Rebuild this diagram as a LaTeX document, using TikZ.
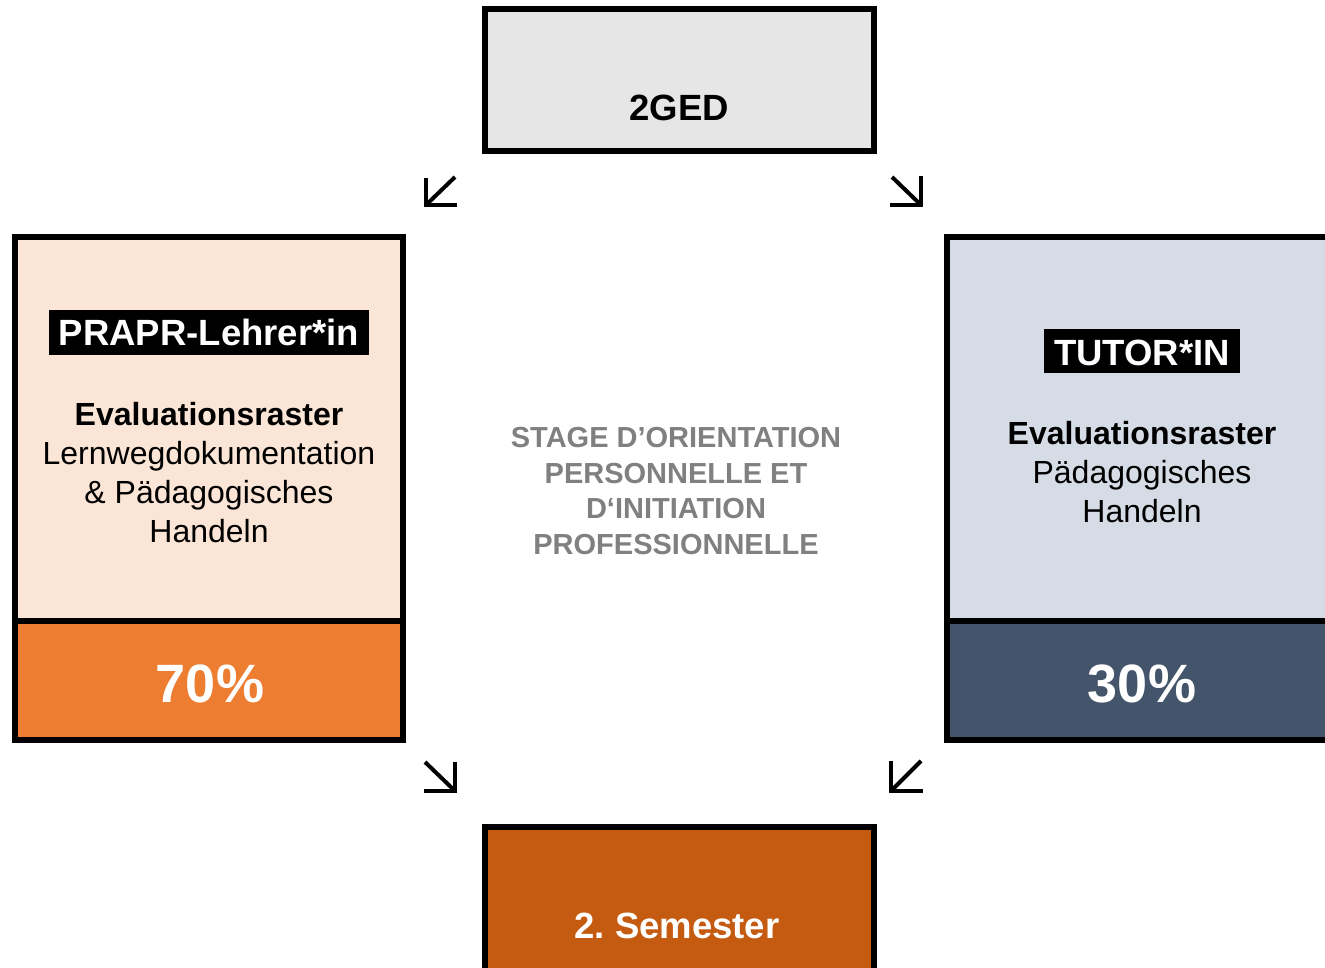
\documentclass[tikz,border=0pt]{standalone}
\usepackage{fontspec}
\setmainfont{Liberation Sans}
\definecolor{gedgray}{HTML}{E6E6E6}
\definecolor{peach}{HTML}{FBE5D6}
\definecolor{orangeA}{HTML}{ED7D31}
\definecolor{bluegray}{HTML}{D6DCE5}
\definecolor{slate}{HTML}{44546A}
\definecolor{rust}{HTML}{C55A11}
\definecolor{midgray}{HTML}{808080}
\begin{document}
\begin{tikzpicture}[x=1pt,y=-1pt,
  frame/.style={draw=black,line width=6pt,inner sep=0pt,outer sep=0pt},
  tag/.style={fill=black,text=white,font=\bfseries\fontsize{36.5}{43}\selectfont,inner xsep=10pt,inner ysep=5pt,text depth=5pt,text height=30pt,anchor=base},
  bodytxt/.style={font=\fontsize{32}{39}\selectfont,align=center,inner sep=0pt,anchor=north},
  pct/.style={text=white,font=\bfseries\fontsize{54}{60}\selectfont,anchor=base,inner sep=0pt},
  ttl/.style={font=\bfseries\fontsize{36.5}{43}\selectfont,anchor=base,inner sep=0pt},
  arr/.style={line width=4pt,line join=miter,line cap=butt}]
\useasboundingbox (0,0) rectangle (1325,968);
\clip (0,0) rectangle (1325,968);

% boxes
\node[frame,fill=gedgray,minimum width=389pt,minimum height=142pt] (ged) at (679.5,80) {};
\node[frame,fill=peach,minimum width=388pt,minimum height=383.5pt] (lup) at (209,428.75) {};
\node[frame,fill=orangeA,minimum width=388pt,minimum height=119.5pt] (llo) at (209,680.25) {};
\node[frame,fill=bluegray,minimum width=388pt,minimum height=383.5pt] (rup) at (1141,428.75) {};
\node[frame,fill=slate,minimum width=388pt,minimum height=119.5pt] (rlo) at (1141,680.25) {};
\node[frame,fill=rust,minimum width=389pt,minimum height=148pt] (sem) at (679.5,901) {};

% texts
\node[ttl] (gedt) at (679,121) {2GED};
\node[ttl,text=white] (semt) at (677,938) {2.~Semester};
\node[tag] (ltag) at (209,345) {PRAPR-Lehrer*in};
\node[tag,text depth=4pt,inner ysep=4pt,text height=32pt] (rtag) at (1142,365) {TUTOR*IN};
\node[bodytxt] (ltxt) at (209,402.4) {\textbf{Evaluationsraster}\\Lernwegdokumentation\\\&~Pädagogisches\\Handeln};
\node[bodytxt] (rtxt) at (1142,421.4) {\textbf{Evaluationsraster}\\Pädagogisches\\Handeln};
\node[font=\bfseries\fontsize{29}{35.7}\selectfont,text=midgray,align=center,inner sep=0pt,anchor=north] (ctxt) at (676,427) {STAGE D’ORIENTATION\\PERSONNELLE ET\\D‘INITIATION\\PROFESSIONNELLE};
\node[pct] (lpct) at (210,702) {70\%};
\node[pct] (rpct) at (1142,702) {30\%};

% arrows (glyph-like)
\coordinate (a1s) at (455,177);
\coordinate (a1c) at (426,205);
\draw[arr] (a1s) -- (a1c);
\draw[arr] ([yshift=27pt]a1c) -- (a1c) -- ([xshift=31pt]a1c);

\coordinate (a2s) at (892,177);
\coordinate (a2c) at (921,205);
\draw[arr] (a2s) -- (a2c);
\draw[arr] ([yshift=29pt]a2c) -- (a2c) -- ([xshift=-31pt]a2c);

\coordinate (a3s) at (425,762);
\coordinate (a3c) at (455,791);
\draw[arr] (a3s) -- (a3c);
\draw[arr] ([yshift=29pt]a3c) -- (a3c) -- ([xshift=-31pt]a3c);

\coordinate (a4s) at (921,761);
\coordinate (a4c) at (891,791);
\draw[arr] (a4s) -- (a4c);
\draw[arr] ([yshift=30pt]a4c) -- (a4c) -- ([xshift=32pt]a4c);
\end{tikzpicture}
\end{document}
